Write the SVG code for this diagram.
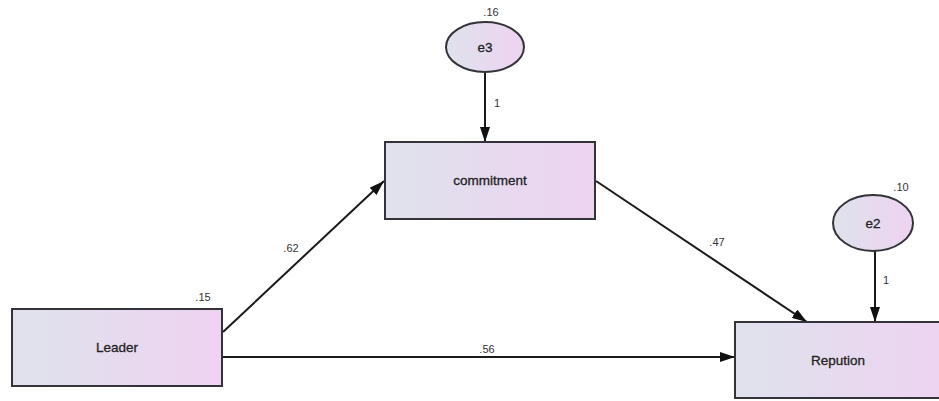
<svg xmlns="http://www.w3.org/2000/svg" width="939" height="401" viewBox="0 0 939 401">
<style>
.node{stroke:#333339;stroke-width:2;fill:url(#g)}
.lbl{font-family:"Liberation Sans",Arial,sans-serif;font-size:13.5px;fill:#222;text-anchor:middle;stroke:#222;stroke-width:0.3}
.num{font-family:"Liberation Sans",Arial,sans-serif;font-size:11px;fill:#333;text-anchor:middle}
.edge{stroke:#1a1a1a;stroke-width:2;fill:none;marker-end:url(#ah)}
</style>
<defs>
<linearGradient id="g" x1="0" y1="0" x2="1" y2="0">
<stop offset="0" stop-color="#dfe2ec"/>
<stop offset="1" stop-color="#eed3f1"/>
</linearGradient>
<marker id="ah" viewBox="0 0 15 10" refX="15" refY="5" markerWidth="15" markerHeight="10" markerUnits="userSpaceOnUse" orient="auto">
<path d="M0,0 L15,5 L0,10 Z" fill="#111"/>
</marker>
</defs>
<rect width="939" height="401" fill="#fff"/>
<g id="connectors">
<line class="edge" x1="485" y1="72" x2="485" y2="142"/>
<line class="edge" x1="875" y1="251" x2="875" y2="322"/>
<line class="edge" x1="223" y1="332" x2="384" y2="181"/>
<line class="edge" x1="596" y1="181" x2="807" y2="322"/>
<line class="edge" x1="223" y1="357" x2="735" y2="357"/>
<text class="num" x="497" y="107">1</text>
<text class="num" x="886" y="284">1</text>
<text class="num" x="291" y="252">.62</text>
<text class="num" x="717" y="246">.47</text>
<text class="num" x="487" y="353">.56</text>
</g>
<g id="Leader">
<rect class="node" x="12" y="309" width="210" height="77"/>
<text class="lbl" x="117" y="352">Leader</text>
<text class="num" x="203" y="301">.15</text>
</g>
<g id="commitment">
<rect class="node" x="385" y="142" width="210" height="77"/>
<text class="lbl" x="490" y="185">commitment</text>
</g>
<g id="Reputation">
<rect class="node" x="735" y="322" width="215" height="76"/>
<text class="lbl" x="838" y="365">Repution</text>
</g>
<g id="e3">
<ellipse class="node" cx="485" cy="47" rx="39" ry="25"/>
<text class="lbl" x="485" y="52">e3</text>
<text class="num" x="491" y="16">.16</text>
</g>
<g id="e2">
<ellipse class="node" cx="873" cy="223" rx="40" ry="28"/>
<text class="lbl" x="873" y="228">e2</text>
<text class="num" x="901" y="191">.10</text>
</g>
</svg>
